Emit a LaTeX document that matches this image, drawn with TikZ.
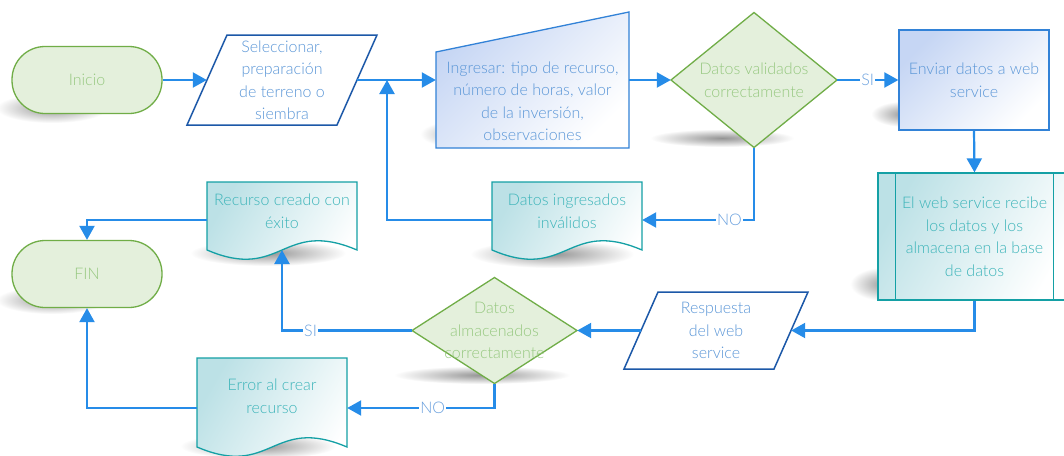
\documentclass[tikz,border=0pt]{standalone}
\usepackage{fontspec}
\setmainfont{Lato}[UprightFont=* Light]
\usetikzlibrary{arrows.meta}

\definecolor{linecol}{RGB}{38,140,232}
\definecolor{greenfill}{RGB}{228,240,220}
\definecolor{greenline}{RGB}{112,173,71}
\definecolor{greentext}{RGB}{150,200,128}
\definecolor{bluetext}{RGB}{90,150,215}
\definecolor{paraline}{RGB}{28,88,168}
\definecolor{boxline}{RGB}{50,130,215}
\definecolor{boxfill}{RGB}{198,214,244}
\definecolor{tealline}{RGB}{20,160,165}
\definecolor{tealfill}{RGB}{188,225,230}
\definecolor{tealtext}{RGB}{60,180,185}
\definecolor{labeltext}{RGB}{105,160,222}

\begin{document}
\begin{tikzpicture}[x=1pt,y=-1pt,
  every node/.style={font=\fontsize{16}{22.5}\selectfont, align=center, inner sep=0pt},
  groundshadow/.style={inner color=black!42, outer color=white},
  terminal/.style={rectangle, rounded corners=33pt, minimum width=150pt, minimum height=67pt,
    fill=greenfill, draw=greenline, line width=1.3pt, text=greentext},
  ioshape/.style={draw=paraline, line width=1.5pt, fill=white},
  bluebox/.style={draw=boxline, line width=1.3pt, top color=boxfill, bottom color=white,
    shading angle=45},
  decision/.style={draw=greenline, line width=1.3pt, fill=greenfill},
  tealshape/.style={draw=tealline, line width=1.3pt, top color=tealfill, bottom color=white,
    shading angle=60},
  conn/.style={draw=linecol, line width=2.2pt, -{Triangle[length=14pt,width=15pt]}},
  lbl/.style={fill=white, text=labeltext, inner xsep=1pt, inner ysep=0pt}
]
\useasboundingbox (0,0) rectangle (1064,455);
\fill[white] (0,0) rectangle (1064,455);

% soft ground shadows under the shapes
\foreach \cx/\cy/\rx/\ry in {
    52/108/56pt/15pt,      % start
    470/134/50pt/15pt,     % manual input
    722/138/72pt/9pt,      % first decision
    905/114/34pt/13pt,     % send box
    886/284/36pt/17pt,     % web service
    268/253/78pt/13pt,     % success document
    552/254/82pt/14pt,     % invalid data document
    482/375/88pt/9pt,      % second decision
    258/446/78pt/13pt,     % error document
    52/300/56pt/14pt}      % end
  \shade[groundshadow] (\cx,\cy) ellipse [x radius=\rx, y radius=\ry];

% start
\node[terminal] (ini) at (87,80) {Inicio};

% choose activity (input)
\draw[ioshape] (227,35) -- (377,35) -- (337,125) -- (187,125) -- cycle;
\node[text=bluetext, minimum width=150pt, minimum height=90pt] (sel) at (282,80)
  {Seleccionar,\\preparación\\de terreno o\\siembra};

% manual input of the resource data
\draw[bluebox] (436,52) -- (629,12) -- (629,148) -- (436,148) -- cycle;
\node[text=bluetext, minimum width=193pt, minimum height=96pt] (ing) at (532.5,101)
  {Ingresar: tipo de recurso,\\número de horas, valor\\de la inversión,\\observaciones};

% first validation
\draw[decision] (671,80) -- (754,12.5) -- (837,80) -- (754,147.5) -- cycle;
\node[text=greentext, minimum width=166pt, minimum height=135pt] (dv) at (754,80)
  {Datos validados\\correctamente};

% send to the web service
\node[bluebox, text=bluetext, minimum width=150pt, minimum height=100pt] (env) at (974,80)
  {Enviar datos a web\\service};

% predefined process: web service
\node[tealshape, text=tealtext, minimum width=193pt, minimum height=127pt] (ws) at (974.5,236.5)
  {El web service recibe\\los datos y los\\almacena en la base\\de datos};
\draw[tealline, line width=1.3pt] ([xshift=18pt]ws.north west) -- ([xshift=18pt]ws.south west);
\draw[tealline, line width=1.3pt] ([xshift=-18pt]ws.north east) -- ([xshift=-18pt]ws.south east);

% response (output)
\draw[ioshape] (658,292) -- (808,292) -- (774,369) -- (624,369) -- cycle;
\node[text=bluetext, minimum width=150pt, minimum height=77pt] (resp) at (716,330.5)
  {Respuesta\\del web\\service};

% second validation
\draw[decision] (412,330.5) -- (494.5,277.5) -- (577,330.5) -- (494.5,383.5) -- cycle;
\node[text=greentext, minimum width=165pt, minimum height=106pt] (da) at (494.5,330.5)
  {Datos\\almacenados\\correctamente};

% documents
\draw[tealshape] (492,182) -- (642,182) -- (642,250)
  .. controls (567,218) and (567,282) .. (492,250) -- cycle;
\node[text=tealtext, minimum width=150pt] (dii) at (567,211) {Datos ingresados\\inválidos};

\draw[tealshape] (207,182) -- (357,182) -- (357,250)
  .. controls (282,218) and (282,282) .. (207,250) -- cycle;
\node[text=tealtext, minimum width=150pt] (rc) at (282,211) {Recurso creado con\\éxito};

\draw[tealshape] (197,358) -- (347,358) -- (347,447)
  .. controls (272,415) and (272,479) .. (197,447) -- cycle;
\node[text=tealtext, minimum width=150pt] (err) at (272,396) {Error al crear\\recurso};

% end
\node[terminal] (fin) at (87,274) {FIN};

% connectors
\coordinate (join) at (387,80);
\draw[conn] (ini.east) -- (sel.west);
\draw[conn] (sel.east) -- (sel.east -| ing.west);
\draw[conn] (ing.east |- dv.west) -- (dv.west);
\draw[conn] (dv.east) -- node[lbl]{SI} (env.west);
\draw[conn] (env.south) -- (ws.north);
\draw[conn] (ws.south) |- (resp.east);
\draw[conn] (resp.west) -- (da.east);
\draw[conn] (da.west) -| node[lbl, pos=0.39]{SI} ([yshift=-39pt]rc.center);
\draw[conn] (dv.south) |- node[lbl, pos=0.61]{NO} ([yshift=-9pt]dii.east);
\draw[conn] ([yshift=-9pt]dii.west) -| (join);
\draw[conn] ([yshift=-9pt]rc.west) -| (fin.north);
\draw[conn] (da.south) |- node[lbl, pos=0.71]{NO} ([yshift=-12pt]err.east);
\draw[conn] ([yshift=-12pt]err.west) -| (fin.south);
\end{tikzpicture}
\end{document}
